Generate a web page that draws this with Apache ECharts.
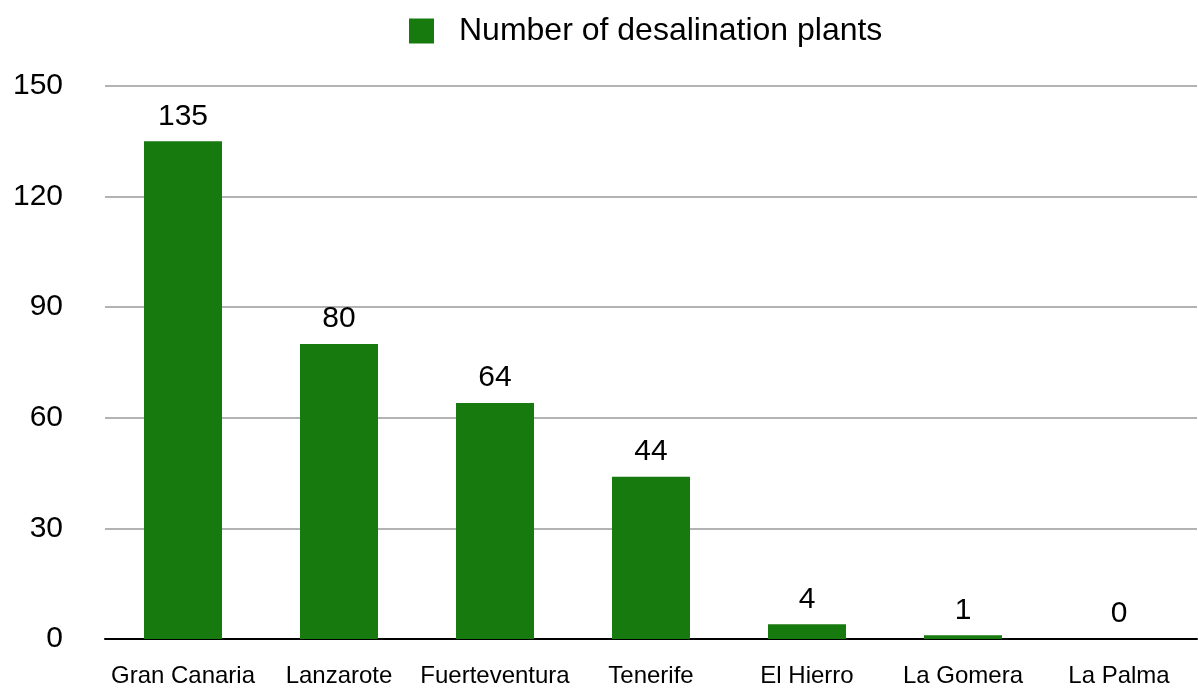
<!DOCTYPE html>
<html>
<head>
<meta charset="utf-8">
<script src="https://cdn.jsdelivr.net/npm/echarts@6/dist/echarts.min.js"></script>
<style>
  html, body { margin: 0; padding: 0; background: #fff; }
  #chart { width: 1198px; height: 691px; }
</style>
</head>
<body>
<div id="chart"></div>
<script>
// islands and plant counts
var islands = ['Gran Canaria', 'Lanzarote', 'Fuerteventura', 'Tenerife', 'El Hierro', 'La Gomera', 'La Palma'];
var plants = [135, 80, 64, 44, 4, 1, 0];
var seriesName = 'Number of desalination plants';

var FONT = '"Liberation Sans", Helvetica, Arial, sans-serif';

var chart = echarts.init(document.getElementById('chart'));

var option = {
    animation: false,
    color: ['#177a0e'],
    legend: {
        left: 409,
        top: 15,
        padding: 0,
        itemWidth: 25,
        itemHeight: 25,
        icon: 'rect',
        data: [seriesName],
        textStyle: {
            fontFamily: FONT,
            fontSize: 32,
            color: '#000',
            padding: [0, 0, 0, 20]
        }
    },
    grid: {
        left: 105,
        right: 1,
        top: 86,
        bottom: 52,
        containLabel: false
    },
    xAxis: {
        type: 'category',
        data: islands,
        axisTick: { show: false },
        axisLine: {
            lineStyle: { color: '#000', width: 2 }
        },
        axisLabel: {
            fontFamily: FONT,
            fontSize: 24,
            color: '#000',
            margin: 25,
            interval: 0
        }
    },
    yAxis: {
        type: 'value',
        min: 0,
        max: 150,
        interval: 30,
        axisLine: { show: false },
        axisTick: { show: false },
        axisLabel: {
            fontFamily: FONT,
            fontSize: 30,
            color: '#000',
            margin: 42
        },
        splitLine: {
            lineStyle: { color: '#b3b3b3', width: 2 }
        }
    },
    series: [
        {
            name: seriesName,
            type: 'bar',
            data: plants,
            barWidth: '50%',
            label: {
                show: true,
                position: 'top',
                distance: 10,
                fontFamily: FONT,
                fontSize: 30,
                color: '#000'
            }
        }
    ]
};

chart.setOption(option);
</script>
</body>
</html>
